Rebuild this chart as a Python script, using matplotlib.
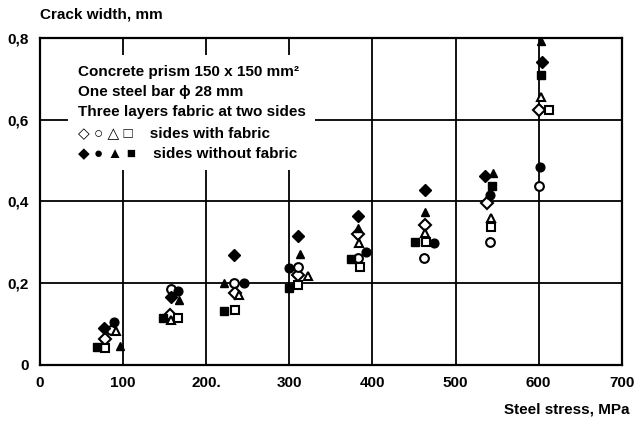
import matplotlib
matplotlib.use("Agg")
import matplotlib.pyplot as plt

# crack width (mm) against steel stress (MPa)
# sides with fabric (open markers)
od_x = [78, 157, 235, 311, 383, 463, 538, 601]
od_y = [0.063, 0.122, 0.176, 0.220, 0.320, 0.342, 0.395, 0.623]
oc_x = [86, 158, 233, 311, 383, 462, 541, 600]
oc_y = [0.085, 0.185, 0.201, 0.240, 0.261, 0.261, 0.301, 0.437]
ot_x = [92, 158, 240, 322, 384, 463, 543, 603]
ot_y = [0.082, 0.109, 0.171, 0.218, 0.299, 0.322, 0.359, 0.656]
os_x = [78, 166, 235, 311, 385, 464, 543, 612]
os_y = [0.041, 0.113, 0.134, 0.195, 0.238, 0.301, 0.337, 0.623]
# sides without fabric (filled markers)
fd_x = [77, 158, 234, 310, 383, 463, 536, 604]
fd_y = [0.090, 0.166, 0.269, 0.314, 0.363, 0.428, 0.462, 0.743]
fc_x = [89, 166, 246, 300, 392, 474, 541, 602]
fc_y = [0.104, 0.180, 0.201, 0.236, 0.275, 0.299, 0.415, 0.484]
ft_x = [96, 167, 222, 313, 383, 463, 545, 603]
ft_y = [0.046, 0.158, 0.201, 0.270, 0.334, 0.375, 0.470, 0.793]
fs_x = [68, 148, 222, 300, 374, 451, 544, 603]
fs_y = [0.044, 0.115, 0.131, 0.188, 0.259, 0.301, 0.437, 0.711]

x_ticks = [0, 100, 200, 300, 400, 500, 600, 700]
x_labels = ["0", "100", "200.", "300", "400", "500", "600", "700"]
y_ticks = [0, 0.2, 0.4, 0.6, 0.8]
y_labels = ["0", "0,2", "0,4", "0,6", "0,8"]

fnt = ["Liberation Sans", "DejaVu Sans"]
plt.rcParams['font.family'] = fnt

fig = plt.figure(figsize=(6.34, 4.21), dpi=100)
ax = fig.add_axes([0.0631, 0.1342, 0.9175, 0.7748])

ax.set_xlim(0, 700)
ax.set_ylim(0, 0.8)
ax.set_xticks(x_ticks)
ax.set_xticklabels(x_labels, fontsize=11, fontweight="bold")
ax.set_yticks(y_ticks)
ax.set_yticklabels(y_labels, fontsize=11, fontweight="bold")
ax.tick_params(length=0, pad=8)
ax.grid(True, color="black", linewidth=1.3)
ax.set_axisbelow(True)
for s in ax.spines.values():
	s.set_linewidth(1.6)

ms = 6.3
op = dict(linestyle="none", color="black", markerfacecolor="white", markeredgewidth=1.5, zorder=5)
fp = dict(linestyle="none", color="black", markerfacecolor="black", zorder=5)
ax.plot(od_x, od_y, marker="D", markersize=ms - 0.5, **op)
ax.plot(oc_x, oc_y, marker="o", markersize=ms, **op)
ax.plot(ot_x, ot_y, marker="^", markersize=ms, **op)
ax.plot(os_x, os_y, marker="s", markersize=ms - 0.8, **op)
ax.plot(fd_x, fd_y, marker="D", markersize=ms, **fp)
ax.plot(fc_x, fc_y, marker="o", markersize=ms, **fp)
ax.plot(ft_x, ft_y, marker="^", markersize=ms, **fp)
ax.plot(fs_x, fs_y, marker="s", markersize=ms - 0.5, **fp)

info = ("Concrete prism 150 x 150 mm\u00b2\n"
	"One steel bar \u03d5 28 mm\n"
	"Three layers fabric at two sides\n"
	"\u25c7 \u25cb \u25b3 \u25a1    sides with fabric\n"
	"\u25c6 \u25cf \u25b2 \u25a0    sides without fabric")
ax.text(0.065, 0.919, info, transform=ax.transAxes, va="top", ha="left",
	fontsize=11, fontweight="bold", linespacing=1.58, family=fnt, zorder=4,
	bbox=dict(facecolor="white", edgecolor="none", pad=7))

fig.text(0.063, 0.965, "Crack width, mm", fontsize=11, fontweight="bold", va="center")
fig.text(0.993, 0.027, "Steel stress, MPa", fontsize=11, fontweight="bold", va="center", ha="right")

fig.savefig("out.png", dpi=100)
